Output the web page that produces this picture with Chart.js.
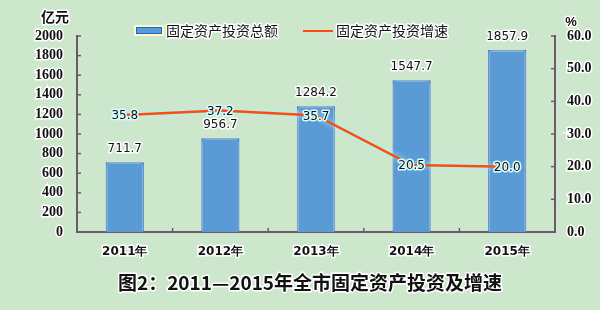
<!DOCTYPE html>
<html><head><meta charset="utf-8">
<script src="https://cdn.jsdelivr.net/npm/chart.js@4"></script>
<style>html,body{margin:0;padding:0;background:#cde7cd}#w{width:600px;height:310px}</style></head>
<body><div id="w"><canvas id="c" width="600" height="310"></canvas></div>
<script>
const categories = ['2011年','2012年','2013年','2014年','2015年'];
const investment = [711.7, 956.7, 1284.2, 1547.7, 1857.9];
const growth = [35.8, 37.2, 35.7, 20.5, 20.0];
const seriesNames = ['固定资产投资总额', '固定资产投资增速'];
const leftAxis = {min: 0, max: 2000, step: 200, unit: '亿元'};
const rightAxis = {min: 0, max: 60, step: 10, unit: '%'};
const chartTitle = '图2：2011—2015年全市固定资产投资及增速';

const BG = '#cde7cd', BAR = '#5b9bd5', BARB = '#1e64e0', LINE = '#ff4a10', AXIS = '#6a5a6a';
const CJK = '"Noto Sans CJK SC", "Noto Sans", sans-serif';

function halo(ctx, text, x, y, stroke, w) {
  ctx.save(); ctx.lineJoin = 'round'; ctx.strokeStyle = stroke; ctx.lineWidth = w;
  ctx.strokeText(text, x, y); ctx.restore(); ctx.fillText(text, x, y);
}

const bgPlugin = {
  id: 'bg',
  beforeDraw(chart) {
    const ctx = chart.ctx; ctx.save(); ctx.fillStyle = BG; ctx.fillRect(0, 0, chart.width, chart.height); ctx.restore();
  }
};

const glowPlugin = {
  id: 'glow',
  beforeDatasetDraw(chart, args) {
    const ctx = chart.ctx; ctx.save();
    if (args.index === 1) { ctx.shadowColor = '#9ff7ff'; ctx.shadowBlur = 5; }
    else { ctx.shadowColor = '#fffbc0'; ctx.shadowBlur = 4; }
  },
  afterDatasetDraw(chart) { chart.ctx.restore(); }
};

const decoPlugin = {
  id: 'deco',
  afterDraw(chart) {
    const ctx = chart.ctx, a = chart.chartArea;
    const sx = chart.scales.x, sy = chart.scales.y, sy1 = chart.scales.y1;
    ctx.save();
    // inward tick marks
    ctx.strokeStyle = AXIS; ctx.lineWidth = 1.5;
    sy.ticks.forEach((t, i) => { const p = sy.getPixelForTick(i); ctx.beginPath(); ctx.moveTo(a.left, p); ctx.lineTo(a.left + 4, p); ctx.stroke(); });
    sy1.ticks.forEach((t, i) => { const p = sy1.getPixelForTick(i); ctx.beginPath(); ctx.moveTo(a.right, p); ctx.lineTo(a.right - 4, p); ctx.stroke(); });
    for (let i = 1; i < categories.length; i++) {
      const p = (sx.getPixelForValue(i - 1) + sx.getPixelForValue(i)) / 2;
      ctx.beginPath(); ctx.moveTo(p, a.bottom); ctx.lineTo(p, a.bottom - 4); ctx.stroke();
    }
    // data labels
    ctx.fillStyle = '#111'; ctx.textAlign = 'center'; ctx.textBaseline = 'middle';
    ctx.font = '12px "DejaVu Sans", sans-serif';
    chart.getDatasetMeta(0).data.forEach((el, i) => {
      halo(ctx, investment[i].toFixed(1), el.x, el.y - 13, '#ffffff', 3);
    });
    chart.getDatasetMeta(1).data.forEach((el, i) => {
      halo(ctx, growth[i].toFixed(1), el.x, el.y + 1, '#d8fdff', 3);
    });
    // unit labels
    ctx.font = 'bold 14px ' + CJK;
    halo(ctx, leftAxis.unit, 55, 17, '#ffffff', 3);
    ctx.font = 'bold 13px "Liberation Sans", sans-serif';
    halo(ctx, rightAxis.unit, 571, 22, '#ffffff', 3);
    // legend
    ctx.fillStyle = '#fffbc0'; ctx.fillRect(134, 25, 30, 11);
    ctx.fillStyle = BAR; ctx.fillRect(136, 27, 26, 7);
    ctx.strokeStyle = BARB; ctx.lineWidth = 1; ctx.strokeRect(136.5, 27.5, 25, 6);
    ctx.strokeStyle = LINE; ctx.lineWidth = 2; ctx.beginPath(); ctx.moveTo(303, 31); ctx.lineTo(333, 31); ctx.stroke();
    ctx.fillStyle = '#111'; ctx.textAlign = 'left'; ctx.font = '14px ' + CJK;
    halo(ctx, seriesNames[0], 166, 31, '#ffffff', 3);
    halo(ctx, seriesNames[1], 336, 31, '#ffffff', 3);
    // title
    ctx.textAlign = 'center'; ctx.font = 'bold 19px ' + CJK;
    halo(ctx, chartTitle, 310, 283, '#ffffff', 3);
    ctx.restore();
  }
};

new Chart(document.getElementById('c'), {
  data: {
    labels: categories,
    datasets: [
      { type: 'bar', label: seriesNames[0], data: investment, yAxisID: 'y', order: 2,
        backgroundColor: BAR, borderColor: BARB, borderWidth: 1.5,
        barPercentage: 0.4, categoryPercentage: 1.0 },
      { type: 'line', label: seriesNames[1], data: growth, yAxisID: 'y1', order: 1,
        borderColor: LINE, borderWidth: 2.5, pointRadius: 0, tension: 0, fill: false }
    ]
  },
  options: {
    responsive: false, devicePixelRatio: 1, animation: false,
    layout: { padding: { top: 36, left: 0, right: 0, bottom: 0 } },
    plugins: { legend: { display: false }, tooltip: { enabled: false }, title: { display: false } },
    scales: {
      x: {
        afterFit(s) { s.height = 78; },
        grid: { display: false, drawTicks: false },
        border: { color: AXIS, width: 2 },
        ticks: { color: '#111', padding: 13, font: { family: '"DejaVu Sans", sans-serif', size: 12, weight: 'bold' },
                 textStrokeColor: '#ffffff', textStrokeWidth: 3 }
      },
      y: {
        position: 'left', min: leftAxis.min, max: leftAxis.max,
        afterFit(s) { s.width = 77; },
        grid: { display: false, drawTicks: false },
        border: { color: AXIS, width: 2 },
        ticks: { stepSize: leftAxis.step, autoSkip: false, color: '#111', padding: 14, callback: v => String(v),
                 font: { family: '"Liberation Serif", serif', size: 14, weight: 'bold' },
                 textStrokeColor: '#ffffff', textStrokeWidth: 3 }
      },
      y1: {
        position: 'right', min: rightAxis.min, max: rightAxis.max,
        afterFit(s) { s.width = 45; },
        grid: { display: false, drawTicks: false },
        border: { color: AXIS, width: 2 },
        ticks: { stepSize: rightAxis.step, autoSkip: false, color: '#111', padding: 12, callback: v => Number(v).toFixed(1),
                 font: { family: '"Liberation Serif", serif', size: 14, weight: 'bold' },
                 textStrokeColor: '#ffffff', textStrokeWidth: 3 }
      }
    }
  },
  plugins: [bgPlugin, glowPlugin, decoPlugin]
});
</script>
</body></html>
